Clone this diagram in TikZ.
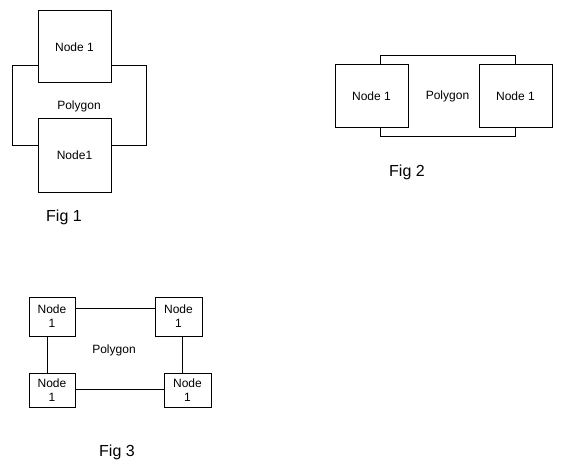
\documentclass[tikz,border=0pt]{standalone}
\usepackage{fontspec}
\setmainfont{Liberation Sans}
\begin{document}
\begin{tikzpicture}[x=1pt,y=-1pt,
  box/.style={draw,fill=white,line width=1pt,inner sep=0pt,font=\fontsize{12}{14}\selectfont},
  poly/.style={draw,line width=1pt,inner sep=0pt,font=\fontsize{12}{14}\selectfont},
  lbl/.style={inner sep=0pt,font=\fontsize{12}{14}\selectfont},
  figlbl/.style={inner sep=0pt,font=\fontsize{16}{18}\selectfont},
  conn/.style={line width=1pt}]
\useasboundingbox (0,0) rectangle (562,476);
% Fig 1
\node[poly,minimum width=134pt,minimum height=80pt] (p1) at (79,106) {Polygon};
\node[box,minimum width=73pt,minimum height=72pt] (a1) at (74.5,47) {Node 1};
\node[box,minimum width=73pt,minimum height=73pt] (b1) at (74.5,155.5) {Node1};
\node[figlbl] (f1) at (64,217) {Fig 1};
% Fig 2
\node[poly,minimum width=135pt,minimum height=81pt] (p2) at (447.5,96.5) {Polygon};
\node[box,minimum width=73pt,minimum height=63pt] (a2) at (371.5,96.5) {Node 1};
\node[box,minimum width=73pt,minimum height=63pt] (b2) at (515.5,96.5) {Node 1};
\node[figlbl] (f2) at (407,172) {Fig 2};
% Fig 3
\node[box,minimum width=46pt,minimum height=39pt,align=center] (tl) at (52,316.5) {Node\\1};
\node[box,minimum width=47pt,minimum height=39pt,align=center] (tr) at (178.5,316.5) {Node\\1};
\node[box,minimum width=46pt,minimum height=34pt,align=center] (bl) at (52,390) {Node\\1};
\node[box,minimum width=47pt,minimum height=34pt,align=center] (br) at (187.5,390) {Node\\1};
\node[lbl] (p3) at (114,350) {Polygon};
\node[figlbl] (f3) at (117,452) {Fig 3};
\coordinate (ty) at (0,308);
\coordinate (lx) at (47,0);
\coordinate (rx) at (182,0);
\coordinate (by) at (0,389);
\draw[conn] (tl.east |- ty) -- (tr.west |- ty);
\draw[conn] (lx |- tl.south) -- (lx |- bl.north);
\draw[conn] (rx |- tr.south) -- (rx |- br.north);
\draw[conn] (bl.east |- by) -- (br.west |- by);
\end{tikzpicture}
\end{document}
